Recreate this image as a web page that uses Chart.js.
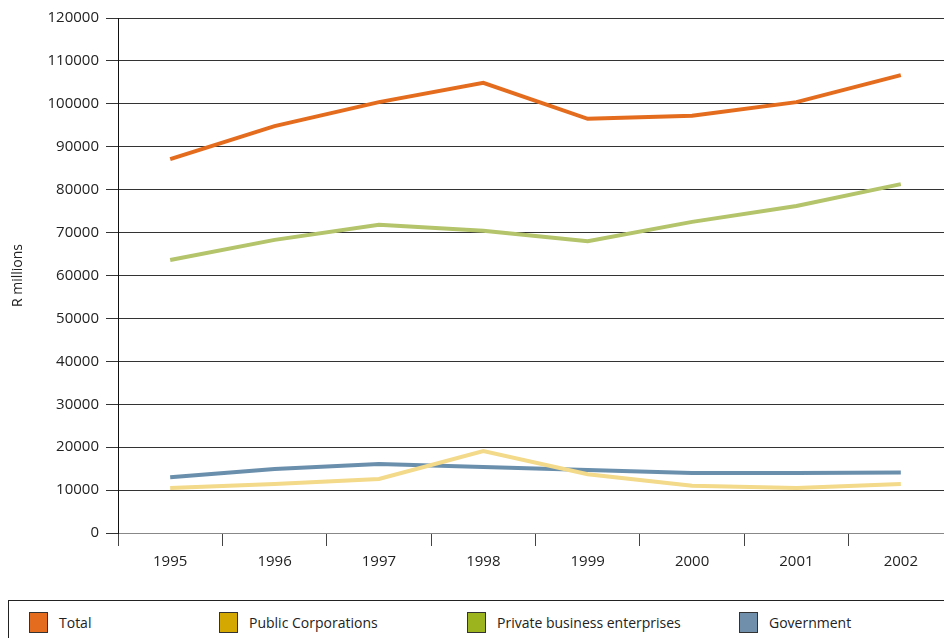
<!DOCTYPE html>
<html>
<head>
<meta charset="utf-8">
<script src="https://cdn.jsdelivr.net/npm/chart.js@4/dist/chart.umd.min.js"></script>
<style>
    html, body { margin: 0; padding: 0; background: #fff; overflow: hidden; }
    #wrap { position: absolute; left: 0; top: 0; width: 960px; height: 590px; }
    #legend {
        position: absolute; left: 8px; top: 600px; width: 960px; height: 60px;
        border: 1px solid #222; box-sizing: border-box;
        font-family: 'Open Sans', sans-serif; font-size: 14px; color: #222;
    }
    .item { position: absolute; top: 11px; height: 22px; line-height: 22px; white-space: nowrap; }
    .box { position: absolute; left: 0; top: 0; width: 19px; height: 21px; border: 1px solid #333; box-sizing: border-box; }
    .item span.lbl { position: absolute; left: 30px; top: 0; }
</style>
</head>
<body>
<div id="wrap"><canvas id="chart"></canvas></div>
<div id="legend"></div>
<script>
// Jahre und Reihen (R millions)
const years = ['1995', '1996', '1997', '1998', '1999', '2000', '2001', '2002']
const seriesNames = ['Total', 'Public Corporations', 'Private business enterprises', 'Government']
const total = [87100, 94800, 100400, 104900, 96500, 97200, 100400, 106700]
const publicCorp = [10500, 11400, 12600, 19100, 13700, 11000, 10500, 11400]
const privateBiz = [63600, 68300, 71800, 70400, 68000, 72500, 76200, 81300]
const government = [13000, 14900, 16100, 15400, 14700, 14000, 14000, 14100]

const lineColors = ['#E46C1E', '#F3D98A', '#B3C46A', '#6A8FAD']
const boxColors = ['#E46C1E', '#D4A800', '#9CB51E', '#6F8FAB']
const legendX = [20, 210, 458, 730]

const font = { family: "'Open Sans', sans-serif", size: 15 }

const seriesData = [total, publicCorp, privateBiz, government]
const drawOrder = [3, 0, 2, 1]

new Chart(document.getElementById('chart'), {
    type: 'line',
    data: {
        labels: years,
        datasets: seriesNames.map((name, i) => ({
            label: name,
            data: seriesData[i],
            borderColor: lineColors[i],
            backgroundColor: lineColors[i],
            borderWidth: 4,
            pointRadius: 0,
            tension: 0,
            order: drawOrder[i]
        }))
    },
    options: {
        responsive: true,
        maintainAspectRatio: false,
        animation: false,
        layout: { padding: { top: 18, right: 7, left: 0, bottom: 0 } },
        plugins: { legend: { display: false }, tooltip: { enabled: false } },
        scales: {
            x: {
                offset: true,
                grid: { offset: true, drawOnChartArea: false, color: '#444', tickLength: 13 },
                border: { color: '#888', width: 1 },
                ticks: { color: '#222', font, padding: 7, maxRotation: 0 },
                afterFit: (scale) => { scale.height = 57 }
            },
            y: {
                min: 0,
                max: 120000,
                ticks: { stepSize: 10000, color: '#222', font, padding: 7, callback: (v) => String(v) },
                grid: { color: '#333', tickLength: 12 },
                border: { color: '#111', width: 1 },
                title: { display: true, text: 'R millions', color: '#222', font: { ...font, size: 14 }, padding: { top: 10 } },
                afterFit: (scale) => { scale.width = 118 }
            }
        }
    }
})

// Legende unten
const legendEl = document.getElementById('legend')
seriesNames.forEach((name, i) => {
    const item = document.createElement('div')
    item.className = 'item'
    item.style.left = legendX[i] + 'px'
    item.innerHTML = `<div class="box" style="background:${boxColors[i]}"></div><span class="lbl">${name}</span>`
    legendEl.appendChild(item)
})
</script>
</body>
</html>
